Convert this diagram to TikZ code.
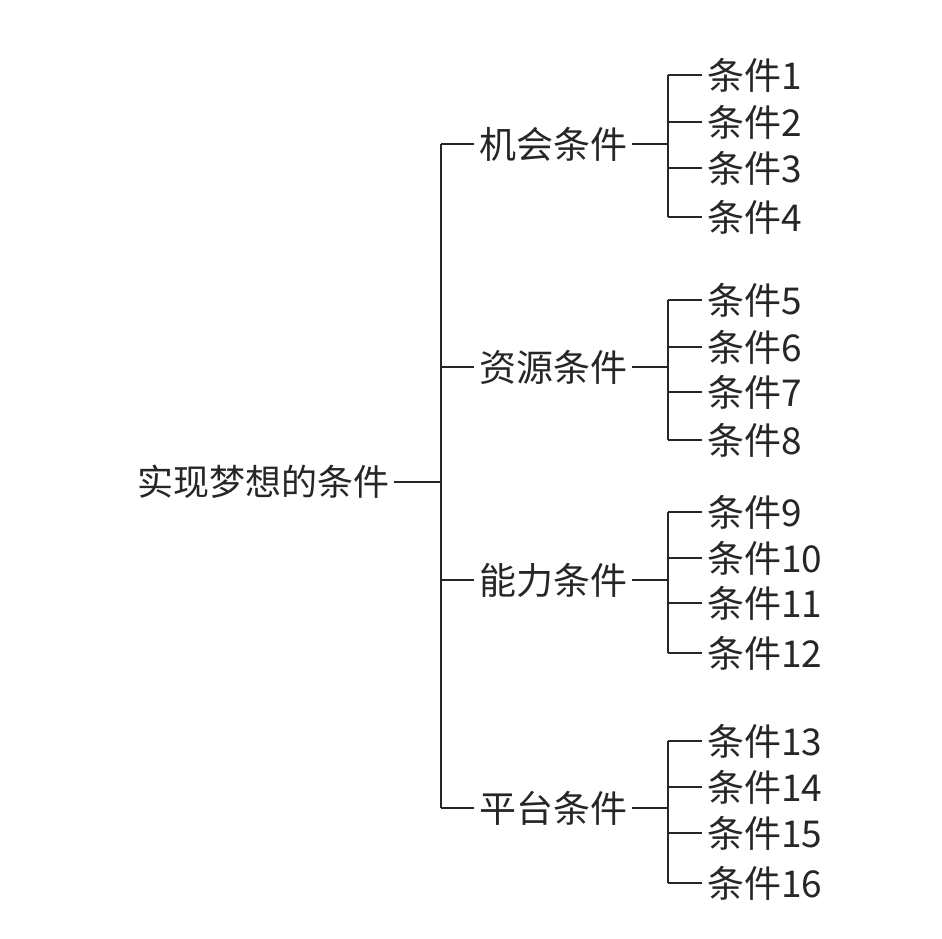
\documentclass[tikz,border=0pt]{standalone}
\usepackage{fontspec}
\setmainfont{Noto Sans CJK SC}
\begin{document}
\begin{tikzpicture}[x=1pt,y=-1pt,
  txt/.style={anchor=west,inner sep=5pt,text=black!85,font=\fontsize{37}{40}\selectfont},
  conn/.style={draw=black!85,line width=1.6pt}]
\useasboundingbox (0,0) rectangle (942,939);
\node[txt,font=\fontsize{36}{40}\selectfont] (root) at (132,482) {实现梦想的条件};
\coordinate (sp) at (441,482);
\coordinate (spt) at (441,144);
\coordinate (spb) at (441,808);
\draw[conn] (root.east) -- (sp);
\draw[conn] (spt) -- (spb);
\foreach \i/\name/\y/\a/\b/\c/\d in {1/机会条件/144/75/122/168/217,2/资源条件/367/300/347/392/440,3/能力条件/580/512/558/603/653,4/平台条件/808/741/787/833/883}{
  \node[txt] (m\i) at (474,\y) {\name};
  \draw[conn] (441,\y) -- (m\i.west);
  \coordinate (j\i) at (668,\y);
  \draw[conn] (m\i.east) -- (j\i);
  \coordinate (jt\i) at (668,\a);
  \coordinate (jb\i) at (668,\d);
  \draw[conn] (jt\i) -- (jb\i);
}
\foreach \n/\y in {1/75,2/122,3/168,4/217,5/300,6/347,7/392,8/440,9/512,10/558,11/603,12/653,13/741,14/787,15/833,16/883}{
  \node[txt] (l\n) at (702,\y) {条件\n};
  \coordinate (k\n) at (668,\y);
  \draw[conn] (k\n) -- (l\n.west);
}
\end{tikzpicture}
\end{document}
